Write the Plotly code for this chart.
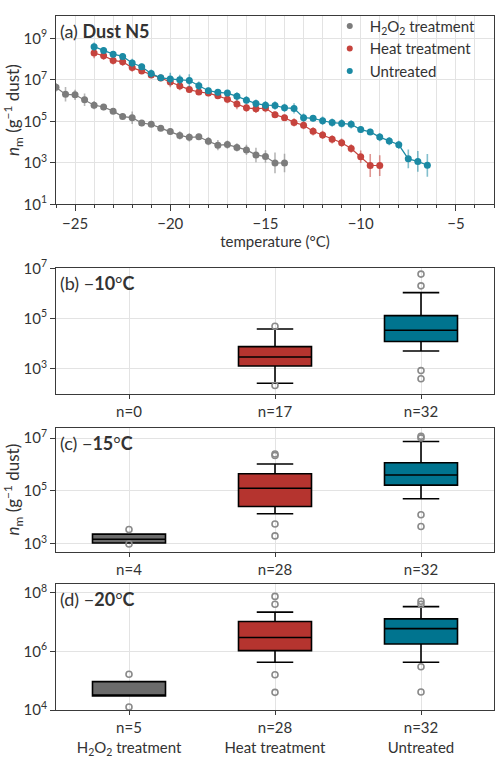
import plotly.graph_objects as go

# ---------------- data: panel (a) ----------------
h2o2_T = [-26.0, -25.5, -25.0, -24.5, -24.0, -23.5, -23.0, -22.5, -22.0, -21.5, -21.0, -20.5,
          -20.0, -19.5, -19.0, -18.5, -18.0, -17.5, -17.0, -16.5, -16.0, -15.5, -15.0, -14.5, -14.0]
h2o2_nm = [4.4e6, 2.0e6, 1.9e6, 1.1e6, 6.0e5, 4.9e5, 3.1e5, 1.7e5, 1.5e5, 8.3e4, 7.2e4, 4.7e4,
           3.2e4, 2.1e4, 1.7e4, 1.8e4, 1.1e4, 7.1e3, 7.6e3, 5.5e3, 4.2e3, 2.4e3, 2.0e3, 9.8e2, 9.8e2]
h2o2_err = [0.2, 0.35, 0.25, 0.3, 0.2, 0.15, 0.12, 0.12, 0.3, 0.15, 0.12, 0.12,
            0.15, 0.2, 0.2, 0.15, 0.2, 0.25, 0.2, 0.2, 0.25, 0.35, 0.3, 0.5, 0.45]

heat_T = [-24.0, -23.5, -23.0, -22.5, -22.0, -21.5, -21.0, -20.5, -20.0, -19.5, -19.0, -18.5,
          -18.0, -17.5, -17.0, -16.5, -16.0, -15.5, -15.0, -14.5, -14.0, -13.5, -13.0, -12.5,
          -12.0, -11.5, -11.0, -10.5, -10.0, -9.5, -9.0]
heat_nm = [1.95e8, 1.45e8, 8.7e7, 7.4e7, 3.9e7, 2.7e7, 1.74e7, 1.23e7, 7.9e6, 5.0e6, 3.4e6, 2.6e6,
           2.3e6, 1.7e6, 1.17e6, 6.9e5, 4.5e5, 4.0e5, 4.4e5, 2.1e5, 1.5e5, 8.9e4, 6.5e4, 3.3e4,
           2.2e4, 1.35e4, 9.3e3, 4.9e3, 1.95e3, 7.4e2, 7.4e2]
heat_err = [0.25, 0.2, 0.2, 0.2, 0.2, 0.15, 0.15, 0.15, 0.25, 0.2, 0.15, 0.15,
            0.15, 0.15, 0.2, 0.25, 0.2, 0.2, 0.2, 0.15, 0.15, 0.2, 0.2, 0.2,
            0.2, 0.2, 0.2, 0.2, 0.3, 0.55, 0.5]

untr_T = [-24.0, -23.5, -23.0, -22.5, -22.0, -21.5, -21.0, -20.5, -20.0, -19.5, -19.0, -18.5,
          -18.0, -17.5, -17.0, -16.5, -16.0, -15.5, -15.0, -14.5, -14.0, -13.5, -13.0, -12.5,
          -12.0, -11.5, -11.0, -10.5, -10.0, -9.5, -9.0, -8.5, -8.0, -7.5, -7.0, -6.5]
untr_nm = [4.0e8, 2.6e8, 1.74e8, 1.35e8, 6.5e7, 4.3e7, 2.0e7, 1.26e7, 1.1e7, 1.0e7, 9.3e6, 5.2e6,
           3.0e6, 2.5e6, 2.3e6, 1.6e6, 1.05e6, 7.2e5, 6.0e5, 5.8e5, 4.5e5, 4.2e5, 1.5e5, 1.4e5,
           1.07e5, 8.7e4, 7.9e4, 7.2e4, 4.0e4, 3.1e4, 1.74e4, 1.12e4, 7.4e3, 1.55e3, 1.17e3, 7.6e2]
untr_err = [0.2, 0.15, 0.15, 0.15, 0.2, 0.15, 0.2, 0.15, 0.3, 0.25, 0.3, 0.2,
            0.15, 0.15, 0.15, 0.2, 0.2, 0.2, 0.2, 0.2, 0.2, 0.25, 0.2, 0.15,
            0.2, 0.2, 0.2, 0.2, 0.15, 0.15, 0.2, 0.2, 0.2, 0.45, 0.5, 0.55]

# ---------------- data: box panels (b) -10, (c) -15, (d) -20 ----------------
box_groups = ["H<sub>2</sub>O<sub>2</sub> treatment", "Heat treatment", "Untreated"]
panel_temps = ["−<b>10</b>°<b>C</b>", "−<b>15</b>°<b>C</b>", "−<b>20</b>°<b>C</b>"]
counts_b = [0, 17, 32]
counts_c = [4, 28, 32]
counts_d = [5, 28, 32]

# stats per group: [lowerfence, q1, median, q3, upperfence]  (None = no data)
stats_b = [None,
           [260, 1260, 2900, 7500, 38000],
           [5000, 12000, 34000, 1.3e5, 1.07e6]]
out_b = [[], [4.9e4, 210], [5.9e6, 2.0e6, 830, 390]]

stats_c = [[1070, 1070, 1500, 2330, 2330],
           [13800, 26000, 1.26e5, 4.5e5, 1.05e6],
           [51000, 1.66e5, 4.0e5, 1.17e6, 7.4e6]]
out_c = [[3500, 980], [2.5e6, 2.2e6, 5600, 2000], [1.18e7, 1.02e7, 12600, 4500]]

stats_d = [[30000, 30000, 30000, 93000, 93000],
           [4.3e5, 1.07e6, 3.0e6, 1.05e7, 2.2e7],
           [4.3e5, 1.8e6, 6.0e6, 1.3e7, 3.4e7]]
out_d = [[1.66e5, 12600], [7.6e7, 4.1e7, 1.6e5, 4.0e4], [5.2e7, 4.1e7, 3.0e5, 4.1e4]]

# ---------------- styling ----------------
FONT = "Lato"
line_cols = ["#7c7c7c", "#c6433d", "#1b8aa4"]
err_cols = ["rgba(124,124,124,0.55)", "rgba(198,67,61,0.55)", "rgba(27,138,164,0.55)"]
box_cols = ["#6b6b6b", "#b5342f", "#00748f"]
GRID = "#e3e3e3"
FRAME = "#3a3a3a"
TICKSIZE = 15

fig = go.Figure()

series = [(h2o2_T, h2o2_nm, h2o2_err), (heat_T, heat_nm, heat_err), (untr_T, untr_nm, untr_err)]
for i, (T, nm, er) in enumerate(series):
    up = [v * (10 ** e - 1) for v, e in zip(nm, er)]
    dn = [v * (1 - 10 ** (-e)) for v, e in zip(nm, er)]
    fig.add_trace(go.Scatter(
        x=T, y=nm, mode="lines+markers", xaxis="x", yaxis="y",
        line=dict(color=line_cols[i], width=1.2),
        marker=dict(color=line_cols[i], size=7),
        error_y=dict(type="data", array=up, arrayminus=dn, color=err_cols[i],
                     thickness=1.6, width=0),
        showlegend=False, hoverinfo="x+y"))
    fig.add_trace(go.Scatter(
        x=[None], y=[None], mode="markers", xaxis="x", yaxis="y",
        marker=dict(color=line_cols[i], size=6),
        name=box_groups[i], showlegend=True))

panels = [("x2", "y2", stats_b, out_b), ("x3", "y3", stats_c, out_c), ("x4", "y4", stats_d, out_d)]
for xa, ya, stats, outs in panels:
    for g in range(3):
        s = stats[g]
        if s is not None:
            fig.add_trace(go.Box(
                x=[g], lowerfence=[s[0]], q1=[s[1]], median=[s[2]], q3=[s[3]], upperfence=[s[4]],
                xaxis=xa, yaxis=ya, width=0.5, whiskerwidth=0.5,
                fillcolor=box_cols[g], line=dict(color="black", width=1.6),
                boxpoints=False, showlegend=False, hoverinfo="y"))
        if outs[g]:
            fig.add_trace(go.Scatter(
                x=[g] * len(outs[g]), y=outs[g], mode="markers", xaxis=xa, yaxis=ya,
                marker=dict(symbol="circle-open", size=6, color="#8a8a8a",
                            line=dict(width=1.6, color="#8a8a8a")),
                showlegend=False, hoverinfo="y"))

# ---------------- axes ----------------
def sup_ticks(exps):
    return [10.0 ** e for e in exps], ["10<sup>%d</sup>" % e for e in exps]

common_ax = dict(showline=True, mirror=True, linecolor=FRAME, linewidth=1,
                 gridcolor=GRID, gridwidth=1, ticks="outside", tickcolor=FRAME,
                 tickfont=dict(size=TICKSIZE, color="#333"), zeroline=False)

tv, tt = sup_ticks([1, 3, 5, 7, 9])
ylab = "<i>n</i><sub>m</sub> (g<sup>−1</sup> dust)"

dom_a = [0.7287, 1.0]
dom_b = [0.4559, 0.6364]
dom_c = [0.2280, 0.4070]
dom_d = [0.0, 0.1818]

layout = dict(
    width=500, height=763,
    margin=dict(l=56, r=6, t=5, b=43),
    paper_bgcolor="white", plot_bgcolor="white",
    font=dict(family=FONT, size=TICKSIZE, color="#333"),
    xaxis=dict(domain=[0, 1], anchor="y", range=[-26, -3], tick0=-25, dtick=5, ticklen=6,
               minor=dict(dtick=1, tick0=-25, ticks="outside", ticklen=3, tickcolor=FRAME,
                          showgrid=True, gridcolor=GRID),
               title=dict(text="temperature (°C)", font=dict(size=15), standoff=4),
               **common_ax),
    yaxis=dict(domain=dom_a, anchor="x", type="log", range=[1, 10.08],
               tickvals=tv, ticktext=tt, ticklen=5,
               title=dict(text=ylab, font=dict(size=17), standoff=3), **common_ax),
)

box_ticks = [
    ["n=%d" % c for c in counts_b],
    ["n=%d" % c for c in counts_c],
    ["n=%d<br>%s" % (c, g) for c, g in zip(counts_d, box_groups)],
]
yranges = [[2, 7], [2.7, 7.4], [4, 8.31]]
yexps = [[3, 5, 7], [3, 5, 7], [4, 6, 8]]
doms = [dom_b, dom_c, dom_d]
for k in range(3):
    n = k + 2
    tv2, tt2 = sup_ticks(yexps[k])
    layout["xaxis%d" % n] = dict(domain=[0, 1], anchor="y%d" % n, range=[-0.5, 2.5],
                                 tickvals=[0, 1, 2], ticktext=box_ticks[k], ticklen=4,
                                 **common_ax)
    ydict = dict(domain=doms[k], anchor="x%d" % n, type="log", range=yranges[k],
                 tickvals=tv2, ticktext=tt2, ticklen=5, **common_ax)
    if k == 1:
        ydict["title"] = dict(text=ylab, font=dict(size=17), standoff=3)
    layout["yaxis%d" % n] = ydict

fig.update_layout(**layout)

fig.update_layout(legend=dict(x=0.625, y=1.009, xanchor="left", yanchor="top",
                              bgcolor="rgba(0,0,0,0)", font=dict(size=15),
                              itemwidth=30, tracegroupgap=2))

# panel labels
labels = ["(a) <b>Dust N5</b>"] + ["(%s) %s" % (c, t) for c, t in zip("bcd", panel_temps)]
tops = [dom_a[1], dom_b[1], dom_c[1], dom_d[1]]
for lab, top in zip(labels, tops):
    fig.add_annotation(x=0.004, y=top - 0.003, xref="paper", yref="paper",
                       xanchor="left", yanchor="top", text=lab, showarrow=False,
                       font=dict(size=18, color="#333"))

fig.write_html("out.html")
